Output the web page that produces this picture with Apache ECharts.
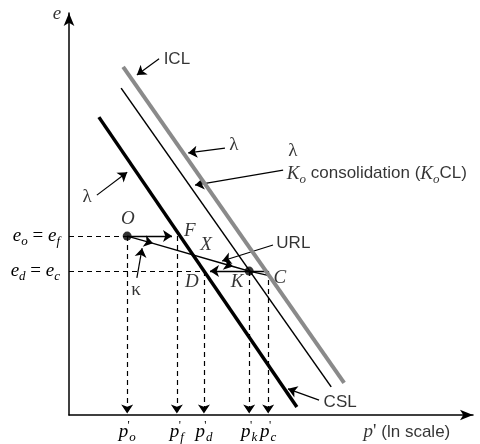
<!DOCTYPE html>
<html><head><meta charset="utf-8">
<script src="https://cdn.jsdelivr.net/npm/echarts@6/dist/echarts.min.js"></script>
<style>html,body{margin:0;padding:0;background:#fff}#c{width:480px;height:444px}</style>
</head><body><div id="c"></div>
<script>
// Schematic e – ln p' diagram (axis units 0..100)
const iclLine = [[13.4, 86.6], [68.1, 8.0]];
const koclLine = [[12.9, 81.3], [64.9, 7.0]];
const cslLine = [[7.4, 74.1], [56.4, 2.0]];
const urlPath = [[14.4, 44.5], [20.8, 42.7], [40.6, 36.95], [44.6, 35.8], [49.8, 34.6]];
const statePoints = [[14.4, 44.5], [44.6, 35.8]]; // O, K
const pTicks = [14.4, 26.7, 33.4, 44.6, 49.3];
const pTickSubs = ['o', 'f', 'd', 'k', 'c'];
const pStartE = [44.5, 44.5, 35.8, 35.8, 35.8];
const eTicks = [44.5, 35.8];
const eTickSubs = [['o', 'f'], ['d', 'c']];
const ofArrow = [[14.4, 44.5], [25.5, 44.5]];
const cdArrow = [[49.3, 35.8], [34.9, 35.8]];
const eDash = [[[0, 44.5], [14.4, 44.5]], [[0, 35.8], [33.4, 35.8]]];
const leaders = [
  [[22.3, 88.6], [16.8, 84.6]],   // ICL
  [[38.6, 66.4], [29.5, 65.2]],   // lambda ICL
  [[53.0, 60.9], [31.2, 57.2]],   // KoCL
  [[6.9, 54.7], [14.4, 60.4]],    // lambda CSL
  [[50.5, 42.3], [37.9, 38.3]],   // URL
  [[16.8, 34.1], [18.1, 41.5]],   // kappa
  [[61.9, 3.7], [54.2, 6.5]]      // CSL
];
const textLabels = [
  {pos: [23.3, 88.6], text: '{sans|ICL}', place: 'right'},
  {pos: [40.8, 67.1], text: '{rm|λ}', place: 'inside'},
  {pos: [55.4, 65.6], text: '{rm|λ}', place: 'inside'},
  {pos: [53.8, 60.0], text: '{it|K}{sub|o}{sans| consolidation (}{it|K}{sub|o}{sans|CL)}', place: 'right'},
  {pos: [4.5, 54.2], text: '{rm|λ}', place: 'inside'},
  {pos: [51.2, 42.8], text: '{sans|URL}', place: 'right'},
  {pos: [62.9, 3.2], text: '{sans|CSL}', place: 'right'},
  {pos: [16.6, 31.1], text: '{rm|κ}', place: 'inside'},
  {pos: [14.6, 48.8], text: '{it|O}', place: 'inside'},
  {pos: [29.9, 45.8], text: '{it|F}', place: 'inside'},
  {pos: [33.9, 42.3], text: '{it|X}', place: 'inside'},
  {pos: [30.4, 33.1], text: '{it|D}', place: 'inside'},
  {pos: [41.6, 33.1], text: '{it|K}', place: 'inside'},
  {pos: [52.2, 34.1], text: '{it|C}', place: 'inside'},
  {pos: [-3.0, 99.8], text: '{it|e}', place: 'inside'},
  {pos: [72.8, -4.2], text: '{it|p}{rm|\' }{sans|(ln scale)}', place: 'right'}
];

const serif = 'Liberation Serif';
const sansF = 'Liberation Sans';
const rich = {
  it: {fontFamily: serif, fontStyle: 'italic', fontSize: 19, lineHeight: 24, color: '#000'},
  sub: {fontFamily: serif, fontStyle: 'italic', fontSize: 13, lineHeight: 13, verticalAlign: 'bottom', color: '#000'},
  pr: {fontFamily: serif, fontSize: 12, lineHeight: 11, verticalAlign: 'top', color: '#000', width: 1},
  rm: {fontFamily: serif, fontSize: 19, lineHeight: 24, color: '#000'},
  sans: {fontFamily: sansF, fontSize: 17, lineHeight: 24, color: '#000'}
};

const chart = echarts.init(document.getElementById('c'), null, {renderer: 'canvas'});
const seg = (a) => ({coords: a});
chart.setOption({
  animation: false,
  backgroundColor: '#fff',
  grid: {left: 69, right: 7, top: 13, bottom: 29, containLabel: false},
  xAxis: {
    type: 'value', min: 0, max: 100,
    splitLine: {show: false},
    axisTick: {show: false},
    axisLine: {onZero: false, lineStyle: {color: '#000', width: 1.5}, symbol: ['none', 'arrow'], symbolSize: [8, 13]},
    axisLabel: {
      customValues: pTicks, margin: 5, rich: rich,
      formatter: (v) => { const i = pTicks.indexOf(v); return '{it|p}{pr|\'}{sub|' + pTickSubs[i] + '}'; }
    }
  },
  yAxis: {
    type: 'value', min: 0, max: 100,
    splitLine: {show: false},
    axisTick: {show: false},
    axisLine: {onZero: false, lineStyle: {color: '#000', width: 1.5}, symbol: ['none', 'arrow'], symbolSize: [8, 13]},
    axisLabel: {
      customValues: eTicks, margin: 9, rich: rich,
      formatter: (v) => { const i = eTicks.indexOf(v); const s = eTickSubs[i];
        return '{it|e}{sub|' + s[0] + '}{rm| = }{it|e}{sub|' + s[1] + '}'; }
    }
  },
  series: [
    {type: 'line', data: iclLine, showSymbol: false, lineStyle: {color: '#8a8a8a', width: 4}},
    {type: 'line', data: koclLine, showSymbol: false, lineStyle: {color: '#000', width: 1.5}},
    {type: 'line', data: cslLine, showSymbol: false, lineStyle: {color: '#000', width: 3.5}},
    {type: 'lines', coordinateSystem: 'cartesian2d', polyline: true, symbol: ['none', 'none'],
     lineStyle: {color: '#000', width: 1.4, opacity: 1, curveness: 0},
     data: [seg(urlPath.slice(2))]},
    {type: 'lines', coordinateSystem: 'cartesian2d', symbol: ['none', 'arrow'], symbolSize: 9,
     lineStyle: {color: '#000', width: 1.4, opacity: 1, curveness: 0},
     data: [seg([urlPath[0], urlPath[1]]), seg([urlPath[1], urlPath[2]]), seg(ofArrow), seg(cdArrow)]},
    {type: 'lines', coordinateSystem: 'cartesian2d', symbol: ['none', 'arrow'], symbolSize: 9,
     lineStyle: {color: '#000', width: 1.2, opacity: 1, curveness: 0},
     data: leaders.map(seg)},
    {type: 'lines', coordinateSystem: 'cartesian2d', symbol: ['none', 'arrow'], symbolSize: 9,
     lineStyle: {color: '#000', width: 1.2, opacity: 1, type: [5, 4], curveness: 0},
     data: pTicks.map((x, i) => seg([[x, pStartE[i]], [x, 0.4]]))},
    {type: 'lines', coordinateSystem: 'cartesian2d', symbol: ['none', 'none'],
     lineStyle: {color: '#000', width: 1.2, opacity: 1, type: [5, 4], curveness: 0},
     data: eDash.map(seg)},
    {type: 'scatter', data: statePoints, symbolSize: 9, itemStyle: {color: '#000'}, z: 5},
    {type: 'scatter', clip: false, symbolSize: 1, itemStyle: {color: 'rgba(0,0,0,0)'}, z: 6,
     data: textLabels.map(t => ({value: t.pos, label: {show: true, position: t.place, distance: 0,
       formatter: t.text, rich: rich}}))}
  ]
});
</script></body></html>
